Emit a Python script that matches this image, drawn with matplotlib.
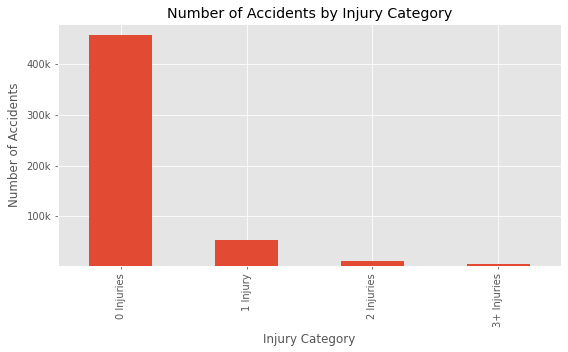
import matplotlib
matplotlib.use("Agg")
import matplotlib.pyplot as plt
from matplotlib.ticker import FuncFormatter

plt.style.use("ggplot")

categories = ["0 Injuries", "1 Injury", "2 Injuries", "3+ Injuries"]
counts = [459000, 52000, 12000, 6000]

fig = plt.figure(figsize=(568/71, 352/71), dpi=71)
ax = fig.add_axes([58/568, 1-266/352, (561-58)/568, (266-24)/352])
x = range(len(categories))
ax.bar(x, counts, width=0.5, color="#E24A33")
ax.set_xticks(list(x))
ax.set_xticklabels(categories, rotation=90)
ax.set_xlim(-0.5, 3.5)
ax.set_ylim(1500, 480000)
ax.yaxis.set_major_formatter(FuncFormatter(lambda v, p: f"{int(v/1000)}k"))
ax.set_title("Number of Accidents by Injury Category")
ax.set_xlabel("Injury Category", labelpad=6)
ax.set_ylabel("Number of Accidents", labelpad=6)
fig.savefig("out.png", dpi=71)
